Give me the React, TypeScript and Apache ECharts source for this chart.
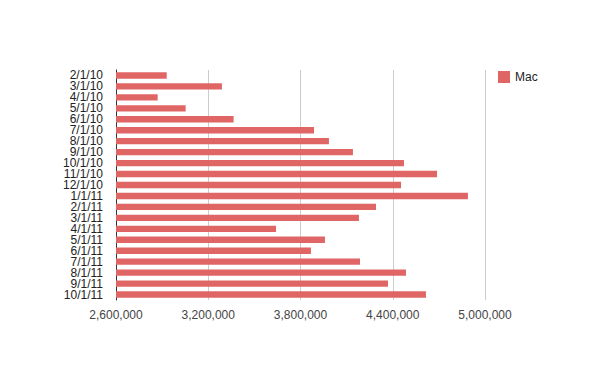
import React, { useEffect, useRef } from "react";
import * as echarts from "echarts";

const categories = [
  "2/1/10", "3/1/10", "4/1/10", "5/1/10", "6/1/10", "7/1/10", "8/1/10", "9/1/10",
  "10/1/10", "11/1/10", "12/1/10", "1/1/11", "2/1/11", "3/1/11", "4/1/11", "5/1/11",
  "6/1/11", "7/1/11", "8/1/11", "9/1/11", "10/1/11",
];
const macValues = [
  2930000, 3289000, 2871000, 3053000, 3365000, 3888000, 3985000, 4141000,
  4473000, 4688000, 4454000, 4889000, 4291000, 4180000, 3641000, 3959000,
  3868000, 4187000, 4486000, 4369000, 4616000,
];
const seriesName = "Mac";
const xMin = 2600000;
const xMax = 5000000;
const xInterval = 600000;

export default function App() {
  const ref = useRef<HTMLDivElement>(null);
  useEffect(() => {
    if (!ref.current) return;
    const chart = echarts.init(ref.current, undefined, { renderer: "svg" });
    const font = "Arial, 'Liberation Sans', sans-serif";
    chart.setOption({
      animation: false,
      textStyle: { fontFamily: font },
      legend: {
        data: [seriesName],
        orient: "vertical",
        left: 498,
        top: 71,
        padding: 0,
        itemWidth: 12,
        itemHeight: 12,
        itemGap: 5,
        icon: "rect",
        textStyle: { fontSize: 12, color: "#222", fontFamily: font },
      },
      grid: { left: 116, right: 115, top: 70, bottom: 71, containLabel: false },
      xAxis: {
        type: "value",
        min: xMin,
        max: xMax,
        interval: xInterval,
        axisLine: { show: false },
        axisTick: { show: false },
        splitLine: { show: true, lineStyle: { color: "#cccccc", width: 1 } },
        axisLabel: {
          color: "#444",
          fontSize: 12,
          margin: 9,
          fontFamily: font,
          formatter: (v: number) => v.toLocaleString("en-US"),
        },
      },
      yAxis: {
        type: "category",
        data: categories,
        inverse: true,
        axisLine: { show: true, lineStyle: { color: "#333", width: 1 } },
        axisTick: { show: false },
        axisLabel: {
          color: "#222",
          fontSize: 12,
          lineHeight: 10,
          margin: 13,
          interval: 0,
          fontFamily: font,
        },
      },
      series: [
        {
          name: seriesName,
          type: "bar",
          data: macValues,
          barCategoryGap: "42%",
          itemStyle: { color: "#e06666" },
        },
      ],
    });
    return () => chart.dispose();
  }, []);
  return <div ref={ref} style={{ width: 600, height: 371, margin: -8 }} />;
}
